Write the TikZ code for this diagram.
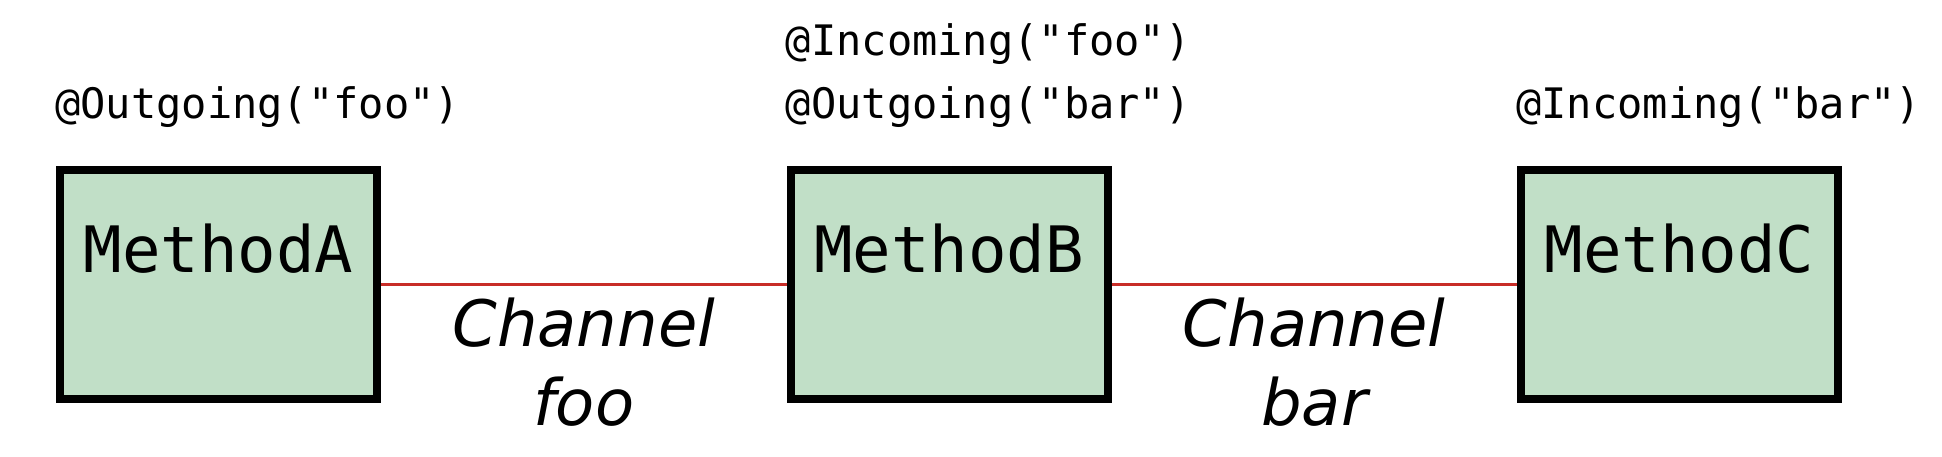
\documentclass[tikz,border=0pt]{standalone}
\usepackage{fontspec}
\setmonofont{DejaVu Sans Mono}
\setsansfont{DejaVu Sans}
\usetikzlibrary{positioning}
\definecolor{ink}{RGB}{0,0,0}
\definecolor{leaf}{RGB}{193,223,199}
\definecolor{wire}{RGB}{200,45,40}
\tikzset{
  method/.style={draw=ink,line width=4pt,fill=leaf,minimum width=158.5pt,
    inner xsep=0pt,inner ysep=0pt,text height=51pt,text depth=63.5pt,
    font=\ttfamily\fontsize{32}{38}\selectfont},
  anno/.style={inner sep=0pt,anchor=base west,
    font=\ttfamily\fontsize{21}{25}\selectfont},
  chan/.style={draw=wire,line width=1.6pt},
  chanlbl/.style={inner sep=0pt,align=center,anchor=base,text=ink,
    font=\sffamily\itshape\fontsize{32}{39.5}\selectfont},
}
\begin{document}
\begin{tikzpicture}
  \useasboundingbox (0,0) rectangle (971pt,-228pt);
  \node[method] (ma) at (109.25pt,-142.25pt) {MethodA};
  \node[method,right=202.75pt of ma] (mb) {MethodB};
  \node[method,right=202.75pt of mb] (mc) {MethodC};
  % channels
  \draw[chan] (ma) -- node[chanlbl,yshift=-70.25pt] (cfoo) {Channel\\foo} (mb);
  \draw[chan] (mb) -- node[chanlbl,yshift=-70.25pt] (cbar) {Channel\\bar} (mc);
  % annotations
  \node[anno] (aout) at ([shift={(-0.5pt,24pt)}]ma.north west) {@Outgoing("foo")};
  \node[anno] (bout) at ([shift={(-0.5pt,24pt)}]mb.north west) {@Outgoing("bar")};
  \node[anno] (bin) at ([yshift=31.5pt]bout.base west) {@Incoming("foo")};
  \node[anno] (cin) at ([shift={(-0.5pt,24pt)}]mc.north west) {@Incoming("bar")};
\end{tikzpicture}
\end{document}
